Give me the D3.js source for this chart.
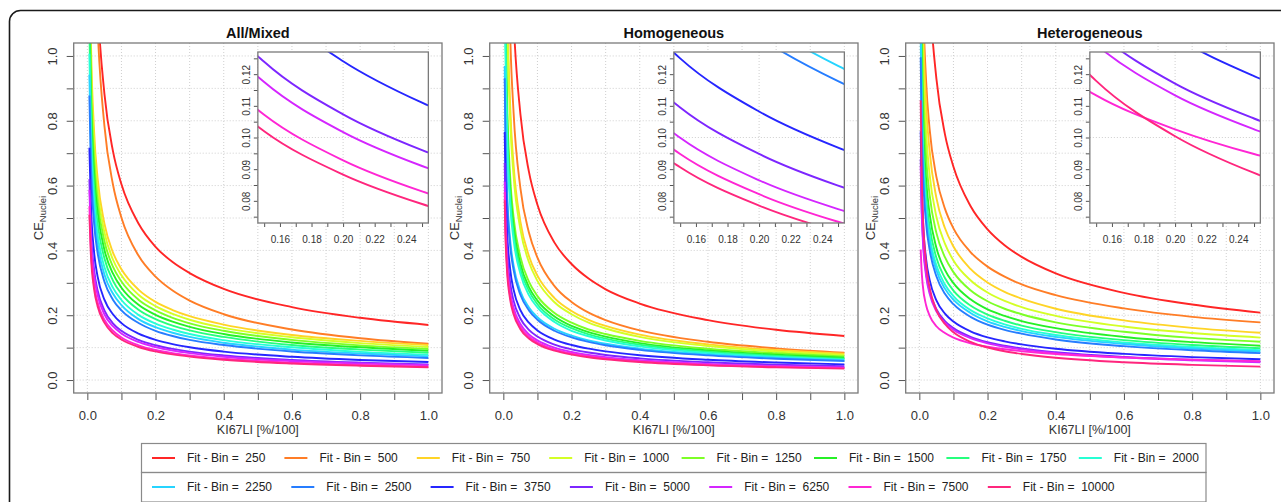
<!DOCTYPE html>
<html>
<head>
<meta charset="utf-8">
<script src="https://cdn.jsdelivr.net/npm/d3@7"></script>
<style>
  body { margin: 0; background: #fff; }
  svg { display: block; font-family: "Liberation Sans", Arial, Helvetica, sans-serif; }
</style>
</head>
<body>
<div id="chart"></div>
<script>
const width = 1281;
const height = 502;

const kiGrid = [0.004, 0.006, 0.01, 0.02, 0.03, 0.05, 0.075, 0.1, 0.15, 0.2, 0.25, 0.3, 0.4, 0.6, 0.8, 1.0];
const bins = [250, 500, 750, 1000, 1250, 1500, 1750, 2000, 2250, 2500, 3750, 5000, 6250, 7500, 10000];
const binColors = ["#FF2626", "#FF7D26", "#FFD426", "#D4FF26", "#7DFF26", "#26F026", "#26FF7D", "#26FFD4",
                   "#26D4FF", "#267DFF", "#2626FF", "#7D26FF", "#D426FF", "#FF26D4", "#FF267D"];
const panelTitles = ["All/Mixed", "Homogeneous", "Heterogeneous"];

// CE_Nuclei, one row per bin, one column per kiGrid value
const ceAllMixed = [
  [null, 2.83, 2.14, 1.46, 1.17, 0.884, 0.707, 0.604, 0.483, 0.411, 0.364, 0.330, 0.281, 0.225, 0.192, 0.170],
  [null, 3.11, 2.23, 1.42, 1.094, 0.785, 0.604, 0.501, 0.384, 0.319, 0.276, 0.245, 0.203, 0.156, 0.129, 0.112],
  [null, 1.394, 1.08, 0.764, 0.624, 0.483, 0.394, 0.342, 0.279, 0.241, 0.216, 0.197, 0.171, 0.139, 0.121, 0.108],
  [null, 1.317, 1.02, 0.721, 0.589, 0.456, 0.372, 0.323, 0.263, 0.228, 0.204, 0.186, 0.161, 0.132, 0.114, 0.102],
  [null, 1.239, 0.96, 0.679, 0.554, 0.429, 0.350, 0.304, 0.248, 0.215, 0.192, 0.175, 0.152, 0.124, 0.107, 0.096],
  [null, 1.162, 0.90, 0.636, 0.520, 0.402, 0.329, 0.285, 0.232, 0.201, 0.180, 0.164, 0.142, 0.116, 0.101, 0.090],
  [null, 1.084, 0.84, 0.594, 0.485, 0.376, 0.307, 0.266, 0.217, 0.188, 0.168, 0.153, 0.133, 0.108, 0.094, 0.084],
  [null, 1.007, 0.78, 0.552, 0.450, 0.349, 0.285, 0.247, 0.201, 0.174, 0.156, 0.142, 0.123, 0.101, 0.087, 0.078],
  [null, 0.942, 0.73, 0.516, 0.421, 0.326, 0.267, 0.231, 0.188, 0.163, 0.146, 0.133, 0.115, 0.094, 0.082, 0.073],
  [null, 0.878, 0.68, 0.481, 0.393, 0.304, 0.248, 0.215, 0.176, 0.152, 0.136, 0.124, 0.108, 0.088, 0.076, 0.068],
  [null, 0.717, 0.555, 0.392, 0.320, 0.248, 0.203, 0.1755, 0.1433, 0.1241, 0.1110, 0.1013, 0.0877, 0.0717, 0.0620, 0.0555],
  [null, 0.620, 0.480, 0.339, 0.277, 0.215, 0.175, 0.1518, 0.1239, 0.1073, 0.0960, 0.0876, 0.0759, 0.0620, 0.0537, 0.0480],
  [null, 0.587, 0.455, 0.322, 0.263, 0.203, 0.166, 0.1439, 0.1175, 0.1017, 0.0910, 0.0831, 0.0719, 0.0587, 0.0509, 0.0455],
  [null, 0.536, 0.415, 0.293, 0.240, 0.186, 0.152, 0.1312, 0.1072, 0.0928, 0.0830, 0.0758, 0.0656, 0.0536, 0.0464, 0.0415],
  [null, 0.510, 0.395, 0.279, 0.228, 0.177, 0.144, 0.1249, 0.1020, 0.0883, 0.0790, 0.0721, 0.0624, 0.0510, 0.0442, 0.0395]
];

const ceHomogeneous = [
  [3.74, 2.92, 2.16, 1.42, 1.115, 0.821, 0.643, 0.541, 0.424, 0.358, 0.313, 0.280, 0.236, 0.185, 0.155, 0.136],
  [3.06, 2.35, 1.686, 1.073, 0.826, 0.592, 0.455, 0.378, 0.290, 0.241, 0.208, 0.185, 0.153, 0.118, 0.0977, 0.0845],
  [2.23, 1.74, 1.284, 0.847, 0.664, 0.489, 0.383, 0.322, 0.253, 0.213, 0.186, 0.167, 0.140, 0.110, 0.0926, 0.081],
  [2.12, 1.656, 1.220, 0.805, 0.631, 0.465, 0.364, 0.306, 0.240, 0.203, 0.177, 0.159, 0.133, 0.105, 0.088, 0.077],
  [1.518, 1.217, 0.919, 0.628, 0.502, 0.380, 0.304, 0.259, 0.207, 0.177, 0.156, 0.142, 0.121, 0.0967, 0.0826, 0.073],
  [1.435, 1.150, 0.869, 0.593, 0.475, 0.359, 0.287, 0.245, 0.196, 0.167, 0.148, 0.134, 0.114, 0.0914, 0.078, 0.069],
  [1.373, 1.100, 0.831, 0.568, 0.454, 0.343, 0.275, 0.234, 0.187, 0.160, 0.141, 0.128, 0.109, 0.0874, 0.0746, 0.066],
  [1.310, 1.050, 0.793, 0.542, 0.433, 0.328, 0.262, 0.224, 0.179, 0.152, 0.135, 0.122, 0.104, 0.0834, 0.0713, 0.063],
  [0.969, 0.791, 0.613, 0.433, 0.354, 0.274, 0.224, 0.1938, 0.1583, 0.1371, 0.1226, 0.1119, 0.0969, 0.0791, 0.0685, 0.0613],
  [0.931, 0.760, 0.589, 0.416, 0.340, 0.263, 0.215, 0.1862, 0.1521, 0.1317, 0.1178, 0.1075, 0.0931, 0.0760, 0.0659, 0.0589],
  [0.765, 0.625, 0.484, 0.342, 0.279, 0.216, 0.177, 0.1530, 0.1250, 0.1082, 0.0968, 0.0884, 0.0765, 0.0625, 0.0541, 0.0484],
  [0.670, 0.547, 0.424, 0.300, 0.245, 0.190, 0.155, 0.1341, 0.1095, 0.0948, 0.0848, 0.0774, 0.0670, 0.0547, 0.0474, 0.0424],
  [0.612, 0.500, 0.387, 0.274, 0.223, 0.173, 0.141, 0.1224, 0.0999, 0.0865, 0.0774, 0.0707, 0.0612, 0.0500, 0.0433, 0.0387],
  [0.580, 0.474, 0.367, 0.260, 0.212, 0.164, 0.134, 0.1160, 0.0948, 0.0821, 0.0734, 0.0670, 0.0580, 0.0474, 0.0410, 0.0367],
  [0.555, 0.453, 0.351, 0.248, 0.203, 0.157, 0.128, 0.1110, 0.0906, 0.0785, 0.0702, 0.0641, 0.0555, 0.0453, 0.0392, 0.0351]
];

const ceHeterogeneous = [
  [3.29, 2.69, 2.08, 1.471, 1.201, 0.930, 0.759, 0.658, 0.537, 0.465, 0.416, 0.380, 0.329, 0.269, 0.233, 0.208],
  [1.810, 1.525, 1.232, 0.920, 0.776, 0.627, 0.529, 0.468, 0.395, 0.350, 0.319, 0.295, 0.262, 0.221, 0.195, 0.178],
  [1.752, 1.46, 1.159, 0.848, 0.708, 0.562, 0.469, 0.412, 0.343, 0.301, 0.272, 0.251, 0.220, 0.184, 0.161, 0.146],
  [1.572, 1.31, 1.040, 0.761, 0.635, 0.504, 0.421, 0.369, 0.308, 0.270, 0.244, 0.225, 0.198, 0.165, 0.145, 0.131],
  [1.416, 1.18, 0.937, 0.686, 0.572, 0.454, 0.379, 0.333, 0.277, 0.243, 0.220, 0.203, 0.178, 0.149, 0.130, 0.118],
  [1.272, 1.06, 0.842, 0.616, 0.514, 0.408, 0.340, 0.299, 0.249, 0.218, 0.198, 0.182, 0.160, 0.133, 0.117, 0.106],
  [1.176, 0.98, 0.778, 0.569, 0.475, 0.377, 0.315, 0.276, 0.230, 0.202, 0.183, 0.168, 0.148, 0.123, 0.108, 0.098],
  [1.104, 0.92, 0.730, 0.535, 0.446, 0.354, 0.295, 0.259, 0.216, 0.190, 0.172, 0.158, 0.139, 0.116, 0.102, 0.092],
  [1.056, 0.88, 0.699, 0.511, 0.427, 0.339, 0.282, 0.248, 0.207, 0.181, 0.164, 0.151, 0.133, 0.111, 0.0972, 0.088],
  [0.996, 0.83, 0.659, 0.482, 0.403, 0.320, 0.266, 0.234, 0.195, 0.171, 0.155, 0.143, 0.125, 0.1045, 0.0917, 0.083],
  [0.768, 0.640, 0.508, 0.372, 0.310, 0.246, 0.205, 0.1805, 0.1504, 0.1318, 0.1194, 0.1100, 0.0966, 0.0806, 0.0707, 0.0640],
  [0.682, 0.568, 0.451, 0.330, 0.275, 0.219, 0.182, 0.1602, 0.1335, 0.1170, 0.1060, 0.0976, 0.0858, 0.0715, 0.0628, 0.0568],
  [0.660, 0.550, 0.437, 0.320, 0.267, 0.212, 0.177, 0.1551, 0.1293, 0.1133, 0.1026, 0.0945, 0.0831, 0.0692, 0.0608, 0.0550],
  [0.403, 0.350, 0.293, 0.230, 0.199, 0.166, 0.145, 0.1308, 0.1133, 0.1026, 0.0948, 0.0890, 0.0805, 0.0698, 0.0631, 0.0584],
  [0.863, 0.692, 0.522, 0.357, 0.286, 0.216, 0.173, 0.1473, 0.1179, 0.1004, 0.0888, 0.0805, 0.0687, 0.0549, 0.0469, 0.0415]
];

const panelData = [ceAllMixed, ceHomogeneous, ceHeterogeneous];

const mainTicks = d3.range(0, 11).map(i => i / 10);
const insetXTicks = d3.range(15, 26).map(i => i / 100);
const insetYTicks = d3.range(15, 26).map(i => i / 200);

const svg = d3.select("#chart")
    .append("svg")
    .attr("width", width)
    .attr("height", height);

svg.append("rect")
    .attr("width", width).attr("height", height)
    .attr("fill", "#fff");

// outer rounded frame, runs off the right and bottom edge
svg.append("rect")
    .attr("x", 9.5).attr("y", 10.5)
    .attr("width", 1320).attr("height", 540)
    .attr("rx", 11)
    .attr("fill", "none")
    .attr("stroke", "#1a1a1a")
    .attr("stroke-width", 1.6);

const defs = svg.append("defs");

function styleAxis(sel, fontSize) {
    sel.select(".domain").remove();
    sel.selectAll(".tick line").attr("stroke", "#555");
    sel.selectAll(".tick text")
        .attr("fill", "#333")
        .style("font-size", fontSize + "px")
        .style("font-family", "'Liberation Sans', Arial, sans-serif");
}

panelTitles.forEach((title, p) => {
    const left = 73.7 + p * 416;
    const top = 43;
    const w = 368.3;
    const h = 350;

    const x = d3.scaleLinear().domain([-0.04, 1.04]).range([left, left + w]);
    const y = d3.scaleLinear().domain([-0.04, 1.04]).range([top + h, top]);

    const g = svg.append("g");

    // dotted grid
    g.selectAll(".vgrid").data(mainTicks).enter().append("line")
        .attr("x1", d => x(d)).attr("x2", d => x(d))
        .attr("y1", top).attr("y2", top + h)
        .attr("stroke", "#cfcfcf").attr("stroke-dasharray", "1,2");
    g.selectAll(".hgrid").data(mainTicks).enter().append("line")
        .attr("y1", d => y(d)).attr("y2", d => y(d))
        .attr("x1", left).attr("x2", left + w)
        .attr("stroke", "#cfcfcf").attr("stroke-dasharray", "1,2");

    defs.append("clipPath").attr("id", "clip" + p)
        .append("rect").attr("x", left).attr("y", top).attr("width", w).attr("height", h);

    const line = d3.line()
        .defined(d => d[1] != null)
        .x(d => x(d[0]))
        .y(d => y(d[1]))
        .curve(d3.curveMonotoneX);

    const series = panelData[p].map((vals, i) => ({
        bin: bins[i],
        color: binColors[i],
        points: kiGrid.map((k, j) => [k, vals[j]])
    }));

    g.append("g").attr("clip-path", `url(#clip${p})`)
        .selectAll("path").data(series).enter().append("path")
        .attr("fill", "none")
        .attr("stroke", d => d.color)
        .attr("stroke-width", 1.9)
        .attr("d", d => line(d.points));

    // axes
    const xAxis = g.append("g")
        .attr("transform", `translate(0,${top + h})`)
        .call(d3.axisBottom(x).tickValues(mainTicks).tickSize(7)
            .tickFormat(d => Math.round(d * 10) % 2 === 0 ? d.toFixed(1) : ""));
    styleAxis(xAxis, 13);
    xAxis.selectAll(".tick text").attr("y", 18).attr("dy", "0.71em");

    const yAxis = g.append("g")
        .attr("transform", `translate(${left},0)`)
        .call(d3.axisLeft(y).tickValues(mainTicks).tickSize(7)
            .tickFormat(d => Math.round(d * 10) % 2 === 0 ? d.toFixed(1) : ""));
    styleAxis(yAxis, 13);
    yAxis.selectAll(".tick text")
        .attr("x", 0).attr("dy", 0)
        .attr("text-anchor", "middle")
        .attr("transform", "translate(-17,0) rotate(-90)");

    g.append("rect")
        .attr("x", left).attr("y", top).attr("width", w).attr("height", h)
        .attr("fill", "none").attr("stroke", "#7a7a7a").attr("stroke-width", 1.3);

    // titles and labels
    g.append("text")
        .attr("x", left + w / 2).attr("y", 38)
        .attr("text-anchor", "middle")
        .style("font-size", "14.5px").style("font-weight", "bold")
        .attr("fill", "#111")
        .text(title);

    g.append("text")
        .attr("x", left + w / 2).attr("y", 434)
        .attr("text-anchor", "middle")
        .style("font-size", "12.5px")
        .attr("fill", "#333")
        .text("KI67LI [%/100]");

    const yLab = g.append("text")
        .attr("transform", `translate(${left - 30.5},${top + h / 2}) rotate(-90)`)
        .attr("text-anchor", "middle")
        .style("font-size", "13px")
        .attr("fill", "#333");
    yLab.append("tspan").text("CE");
    yLab.append("tspan").attr("dy", 3).style("font-size", "9.5px").text("Nuclei");

    // zoomed inset
    const ixL = x(0.5), ixR = x(1.0), iyT = 52, iyB = 223;
    const ix = d3.scaleLinear().domain([0.146, 0.254]).range([ixL, ixR]);
    const iy = d3.scaleLinear().domain([0.073, 0.127]).range([iyB, iyT]);

    const ig = g.append("g");
    ig.append("rect")
        .attr("x", ixL).attr("y", iyT).attr("width", ixR - ixL).attr("height", iyB - iyT)
        .attr("fill", "#fff");
    ig.append("line")
        .attr("x1", ix(0.2)).attr("x2", ix(0.2)).attr("y1", iyT).attr("y2", iyB)
        .attr("stroke", "#cfcfcf").attr("stroke-dasharray", "1,2");
    ig.append("line")
        .attr("y1", iy(0.1)).attr("y2", iy(0.1)).attr("x1", ixL).attr("x2", ixR)
        .attr("stroke", "#cfcfcf").attr("stroke-dasharray", "1,2");

    defs.append("clipPath").attr("id", "iclip" + p)
        .append("rect").attr("x", ixL).attr("y", iyT).attr("width", ixR - ixL).attr("height", iyB - iyT);

    const iline = d3.line()
        .defined(d => d[1] != null)
        .x(d => ix(d[0]))
        .y(d => iy(d[1]))
        .curve(d3.curveMonotoneX);

    ig.append("g").attr("clip-path", `url(#iclip${p})`)
        .selectAll("path").data(series).enter().append("path")
        .attr("fill", "none")
        .attr("stroke", d => d.color)
        .attr("stroke-width", 1.9)
        .attr("d", d => iline(d.points));

    const ixAxis = ig.append("g")
        .attr("transform", `translate(0,${iyB})`)
        .call(d3.axisBottom(ix).tickValues(insetXTicks).tickSize(4)
            .tickFormat(d => {
                const c = Math.round(d * 100);
                return (c % 2 === 0 && c >= 16 && c <= 24) ? d.toFixed(2) : "";
            }));
    styleAxis(ixAxis, 10);
    ixAxis.selectAll(".tick text").attr("y", 13).attr("dy", "0.71em");

    const iyAxis = ig.append("g")
        .attr("transform", `translate(${ixL},0)`)
        .call(d3.axisLeft(iy).tickValues(insetYTicks).tickSize(4)
            .tickFormat(d => Math.round(d * 1000) % 10 === 0 ? d.toFixed(2) : ""));
    styleAxis(iyAxis, 10);
    iyAxis.selectAll(".tick text")
        .attr("x", 0).attr("dy", 0)
        .attr("text-anchor", "middle")
        .attr("transform", "translate(-7.5,0) rotate(-90)");

    ig.append("rect")
        .attr("x", ixL).attr("y", iyT).attr("width", ixR - ixL).attr("height", iyB - iyT)
        .attr("fill", "none").attr("stroke", "#7a7a7a").attr("stroke-width", 1.3);
});

// legend, two rows
const legendRows = [
    { idx: d3.range(0, 8), top: 443.5, h: 29, step: 132.4 },
    { idx: d3.range(8, 15), top: 472.5, h: 29.5, step: 139.3 }
];

legendRows.forEach(row => {
    svg.append("rect")
        .attr("x", 141.5).attr("y", row.top)
        .attr("width", 1064.5).attr("height", row.h)
        .attr("fill", "none").attr("stroke", "#8a8a8a").attr("stroke-width", 1.2);

    const cy = row.top + 14.5;
    const items = svg.append("g").selectAll("g").data(row.idx).enter().append("g")
        .attr("transform", (d, j) => `translate(${152 + j * row.step},${cy})`);

    items.append("line")
        .attr("x1", 0).attr("x2", 23)
        .attr("stroke", d => binColors[d]).attr("stroke-width", 2);

    items.append("text")
        .attr("x", 35).attr("dy", "0.35em")
        .style("font-size", "12px")
        .style("white-space", "pre")
        .attr("fill", "#222")
        .text(d => `Fit - Bin =  ${bins[d]}`);
});
</script>
</body>
</html>
